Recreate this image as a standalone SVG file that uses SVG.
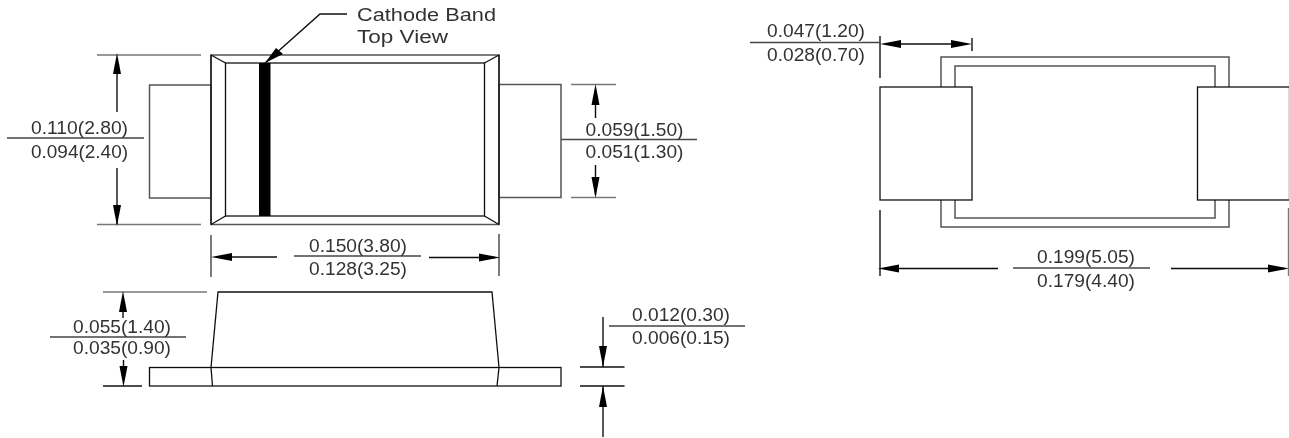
<svg xmlns="http://www.w3.org/2000/svg" width="1289" height="438" viewBox="0 0 1289 438">
<style>
text{font-family:"Liberation Sans",Arial,sans-serif;font-size:17.5px;fill:#333}
.d{text-anchor:middle}
.o{fill:#fff;stroke:#111;stroke-width:1.3}
.g{fill:none;stroke:#555;stroke-width:1.5}
.k{fill:none;stroke:#111;stroke-width:1.3}
.c{fill:none;stroke:#111;stroke-width:1.4}
.e{fill:none;stroke:#777;stroke-width:1.4}
.f{fill:none;stroke:#444;stroke-width:1.4}
.a{fill:#000;stroke:none}
</style>
<defs>
<filter id="soft" x="-2%" y="-2%" width="104%" height="104%"><feGaussianBlur stdDeviation="0.35"/></filter>
<path id="up" class="a" d="M0 0L-4 21H4Z"/>
<path id="dn" class="a" d="M0 0L-4 -21H4Z"/>
<path id="lt" class="a" d="M0 0L21 -4V4Z"/>
<path id="rt" class="a" d="M0 0L-21 -4V4Z"/>
</defs>
<rect width="1289" height="438" fill="#fff"/>
<g filter="url(#soft)">
<g id="top-view">
<rect class="g" x="149.5" y="85" width="61.5" height="113"/>
<rect class="g" x="499" y="84.5" width="62" height="113"/>
<rect class="g" x="211" y="55" width="288" height="169.5" fill="#fff"/>
<path class="k" d="M211 55V224.5M499 55V224.5"/>
<rect class="k" x="225.5" y="63" width="259" height="153"/>
<path class="k" d="M211 55L225.5 63M499 55L484.5 63M211 224.5L225.5 216M499 224.5L484.5 216"/>
<rect x="259" y="63" width="11.5" height="153" fill="#000"/>
</g>
<g id="side-view">
<rect class="k" x="149.5" y="367.5" width="411.5" height="18.5"/>
<path class="k" d="M211 367.5L218 292H492L499 367.5M211 367.5L212.5 386M499 367.5L497 386"/>
</g>
<g id="bottom-view">
<rect class="g" x="941" y="57" width="288" height="170"/>
<rect class="g" x="955" y="66" width="260" height="152"/>
<rect class="o" x="880" y="87" width="92" height="113"/>
<rect class="o" x="1197.5" y="87" width="92" height="113"/>
</g>
<g id="connectors">
<path class="c" d="M265 63L320 14H347"/>
<path class="a" d="M265 63L276 48L283 54Z"/>
<path class="e" d="M97 55H201M97 224.5H201"/>
<path class="c" d="M117 60V112M117 168V224"/>
<use href="#up" x="117" y="53"/><use href="#dn" x="117" y="226"/>
<path class="f" d="M7 138H144"/>
<path class="e" d="M571 84.5H616M571 197.5H616"/>
<path class="c" d="M595.5 90V118M595.5 165V195"/>
<use href="#up" x="595.5" y="84"/><use href="#dn" x="595.5" y="198"/>
<path class="f" d="M561 139.5H697"/>
<path class="f" d="M211 235V277M499 234V276"/>
<path class="c" d="M216 257H277M429 257.500H495"/>
<use href="#lt" x="211" y="257"/><use href="#rt" x="500" y="257.500"/>
<path class="f" d="M294 256H421"/>
<path class="e" d="M103 292H207"/><path class="c" d="M103 386H142"/>
<path class="c" d="M123 300V318M123.500 360V380"/>
<use href="#up" x="123" y="291"/><use href="#dn" x="123.500" y="387"/>
<path class="f" d="M50 337H186"/>
<path class="c" d="M603 317V367M603 386V437M580 367H624.500M580 386H624.500"/>
<use href="#dn" x="603" y="367"/><use href="#up" x="603" y="386"/>
<path class="f" d="M609 326H745"/>
<path class="c" d="M880 36V78M880 210V276M972 38V51M885 44H967"/>
<use href="#lt" x="880" y="44"/><use href="#rt" x="972" y="44"/>
<path class="f" d="M750 42.500H880"/>
<path class="c" d="M885 268.500H998M1171 268.500H1285"/>
<use href="#lt" x="878" y="268.500"/><use href="#rt" x="1289" y="268.500"/>
<path class="e" d="M1288.500 208V276"/>
<path class="f" d="M1013 268H1150"/>
</g>
<g id="labels">
<text x="357" y="21" textLength="139" lengthAdjust="spacingAndGlyphs">Cathode Band</text>
<text x="357" y="43" textLength="91" lengthAdjust="spacingAndGlyphs">Top View</text>
<text class="d" x="79.500" y="134" textLength="97" lengthAdjust="spacingAndGlyphs">0.110(2.80)</text>
<text class="d" x="79.500" y="158" textLength="97" lengthAdjust="spacingAndGlyphs">0.094(2.40)</text>
<text class="d" x="634.500" y="136" textLength="98" lengthAdjust="spacingAndGlyphs">0.059(1.50)</text>
<text class="d" x="634.500" y="158" textLength="98" lengthAdjust="spacingAndGlyphs">0.051(1.30)</text>
<text class="d" x="358" y="252" textLength="98" lengthAdjust="spacingAndGlyphs">0.150(3.80)</text>
<text class="d" x="358" y="275" textLength="98" lengthAdjust="spacingAndGlyphs">0.128(3.25)</text>
<text class="d" x="122" y="333" textLength="98" lengthAdjust="spacingAndGlyphs">0.055(1.40)</text>
<text class="d" x="122" y="354" textLength="98" lengthAdjust="spacingAndGlyphs">0.035(0.90)</text>
<text class="d" x="681" y="321" textLength="98" lengthAdjust="spacingAndGlyphs">0.012(0.30)</text>
<text class="d" x="681" y="344" textLength="98" lengthAdjust="spacingAndGlyphs">0.006(0.15)</text>
<text class="d" x="816" y="37" textLength="98" lengthAdjust="spacingAndGlyphs">0.047(1.20)</text>
<text class="d" x="816" y="61" textLength="98" lengthAdjust="spacingAndGlyphs">0.028(0.70)</text>
<text class="d" x="1086" y="263" textLength="98" lengthAdjust="spacingAndGlyphs">0.199(5.05)</text>
<text class="d" x="1086" y="287" textLength="98" lengthAdjust="spacingAndGlyphs">0.179(4.40)</text>
</g>
</g>
</svg>
